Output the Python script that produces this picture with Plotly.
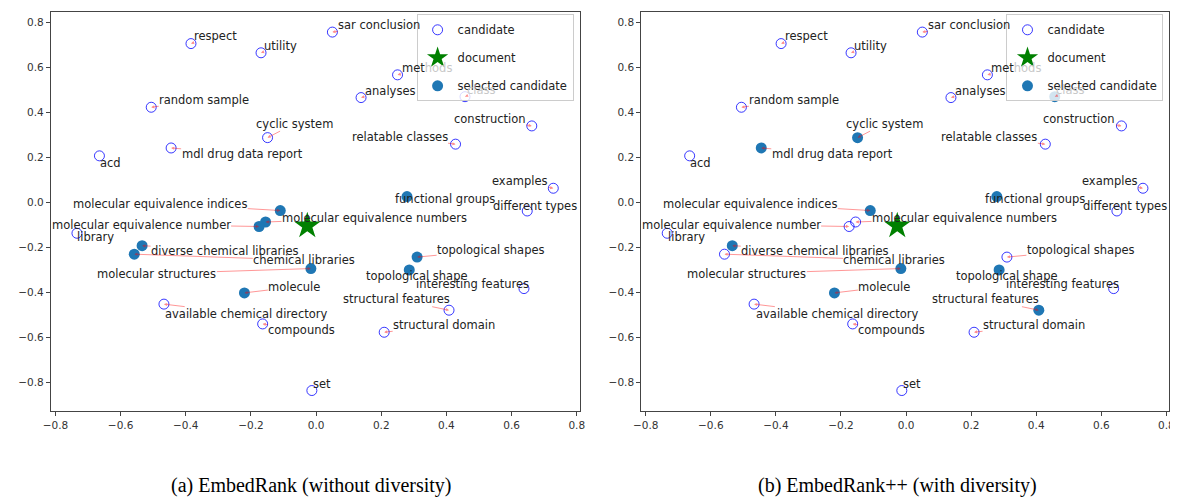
import plotly.graph_objects as go

# ---------------- data ----------------
names = [
    "respect", "utility", "sar conclusion", "random sample", "cyclic system",
    "mdl drug data report", "acd", "molecular equivalence indices",
    "molecular equivalence numbers", "molecular equivalence number", "library",
    "methods", "analyses", "class", "construction", "relatable classes",
    "examples", "functional groups", "different types",
    "diverse chemical libraries", "chemical libraries", "molecular structures",
    "molecule", "available chemical directory", "compounds", "set",
    "topological shapes", "topological shape", "interesting features",
    "structural features", "structural domain",
]
x_vals = [
    -0.384, -0.169, 0.050, -0.506, -0.149,
    -0.445, -0.665, -0.110,
    -0.155, -0.175, -0.734,
    0.250, 0.138, 0.457, 0.662, 0.428,
    0.728, 0.279, 0.648,
    -0.534, -0.558, -0.016,
    -0.220, -0.467, -0.164, -0.013,
    0.310, 0.286, 0.638,
    0.408, 0.209,
]
y_vals = [
    0.705, 0.664, 0.756, 0.422, 0.287,
    0.241, 0.206, -0.037,
    -0.088, -0.108, -0.138,
    0.566, 0.465, 0.469, 0.339, 0.258,
    0.062, 0.025, -0.039,
    -0.193, -0.231, -0.295,
    -0.403, -0.453, -0.541, -0.837,
    -0.244, -0.301, -0.384,
    -0.480, -0.578,
]
doc_x = [-0.027]
doc_y = [-0.105]

selected_a = [
    "molecular equivalence indices", "molecular equivalence numbers",
    "molecular equivalence number", "diverse chemical libraries",
    "chemical libraries", "molecular structures", "molecule",
    "functional groups", "topological shapes", "topological shape",
]
selected_b = [
    "cyclic system", "mdl drug data report", "molecular equivalence indices",
    "diverse chemical libraries", "molecular structures", "molecule",
    "class", "functional groups", "topological shape", "structural features",
]

captions = ["(a) EmbedRank (without diversity)", "(b) EmbedRank++ (with diversity)"]
tick_vals = [-0.8, -0.6, -0.4, -0.2, 0.0, 0.2, 0.4, 0.6, 0.8]

# label text offsets (pixels, relative to point) - layout only
label_offsets = {
    "respect": (25, -8), "utility": (19, -7), "sar conclusion": (47, -7),
    "random sample": (53, -7), "cyclic system": (27, -14),
    "mdl drug data report": (71, 6), "acd": (11, 7),
    "molecular equivalence indices": (-120, -7),
    "molecular equivalence numbers": (109, -4),
    "molecular equivalence number": (-118, -2), "library": (19, 4),
    "methods": (29, -7), "analyses": (29, -7), "class": (16, -7),
    "construction": (-42, -7), "relatable classes": (-56, -7),
    "examples": (-33, -7), "functional groups": (38, 2),
    "different types": (8, -5), "diverse chemical libraries": (83, 5),
    "chemical libraries": (170, 6), "molecular structures": (-154, 5),
    "molecule": (50, -6), "available chemical directory": (83, 10),
    "compounds": (39, 6), "set": (10, -7),
    "topological shapes": (74, -7), "topological shape": (8, 6),
    "interesting features": (-51, -5), "structural features": (-53, -11),
    "structural domain": (60, -7),
}
# number of leading characters left un-faded for labels lying under the legend box
under_legend = {"methods": 3, "class": 0}

# ---------------- figure ----------------
W, H = 1178, 501
OFF = 8  # page body margin in the browser
fig = go.Figure()

CAND_COLOR = "rgba(0,0,255,0.78)"
SEL_COLOR = "#1f77b4"
FONT = "DejaVu Sans"
FADED = "#c8c8c8"


def label_text(n):
    if n in under_legend:
        k = under_legend[n]
        return n[:k] + '<span style="color:%s">%s</span>' % (FADED, n[k:])
    return n


panels = [("x", "y", selected_a, "legend", "a"), ("x2", "y2", selected_b, "legend2", "b")]
annotations = []
for xa, ya, sel, leg, tag in panels:
    cx = [x for n, x in zip(names, x_vals) if n not in sel]
    cy = [y for n, y in zip(names, y_vals) if n not in sel]
    sx = [x for n, x in zip(names, x_vals) if n in sel]
    sy = [y for n, y in zip(names, y_vals) if n in sel]
    fig.add_trace(go.Scatter(
        x=cx, y=cy, mode="markers", name="candidate", xaxis=xa, yaxis=ya,
        legend=leg, legendgroup=tag + "c",
        marker=dict(symbol="circle-open", size=10, color=CAND_COLOR, line=dict(width=1)),
    ))
    fig.add_trace(go.Scatter(
        x=doc_x, y=doc_y, mode="markers", name="document", xaxis=xa, yaxis=ya,
        legend=leg, legendgroup=tag + "d",
        marker=dict(symbol="star", size=20, color="green", line=dict(width=0)),
    ))
    fig.add_trace(go.Scatter(
        x=sx, y=sy, mode="markers", name="selected candidate", xaxis=xa, yaxis=ya,
        legend=leg, legendgroup=tag + "s",
        marker=dict(symbol="circle", size=11, color=SEL_COLOR, line=dict(width=0)),
    ))
    for n, x, y in zip(names, x_vals, y_vals):
        dx, dy = label_offsets[n]
        annotations.append(dict(
            x=x, y=y, xref=xa, yref=ya, text=label_text(n), showarrow=True,
            ax=dx, ay=dy, arrowhead=2, arrowsize=0.7, arrowwidth=0.9,
            arrowcolor="rgba(255,0,0,0.45)", standoff=0, borderpad=0,
            font=dict(family=FONT, size=11.5, color="#222"),
        ))

# captions
for cap, cxp in zip(captions, [(307 - OFF) / W, (900 - OFF) / W]):
    annotations.append(dict(
        x=cxp, y=1 - (485 - OFF) / H, xref="paper", yref="paper", text=cap,
        showarrow=False, xanchor="center", yanchor="middle",
        font=dict(family="Liberation Serif", size=20, color="black"),
    ))

axis_common = dict(
    showgrid=False, zeroline=False, showline=True, mirror=True,
    linecolor="#444", linewidth=1, ticks="outside", ticklen=4,
    tickcolor="#444", tickwidth=1, tickvals=tick_vals, tickformat=".1f",
    tickfont=dict(family=FONT, size=10.5, color="#333"),
)
ydom = [1 - (411 - OFF) / H, 1 - (12.3 - OFF) / H]
fig.update_layout(
    width=W, height=H, margin=dict(l=0, r=0, t=0, b=0),
    paper_bgcolor="white", plot_bgcolor="white",
    xaxis=dict(domain=[(43.3 - OFF) / W, (578.3 - OFF) / W], range=[-0.814, 0.8085],
               anchor="y", ticklabelstandoff=0, **axis_common),
    yaxis=dict(domain=ydom, range=[-0.928, 0.844], anchor="x", **axis_common),
    xaxis2=dict(domain=[(640.7 - OFF) / W, (1175 - OFF) / W], range=[-0.814, 0.8085],
                anchor="y2", ticklabelstandoff=0, **axis_common),
    yaxis2=dict(domain=ydom, range=[-0.928, 0.844], anchor="x2", **axis_common),
    annotations=annotations,
    showlegend=True,
)
legend_common = dict(
    xanchor="right", yanchor="top", bgcolor="rgba(255,255,255,0.8)",
    bordercolor="#cccccc", borderwidth=1, tracegroupgap=9,
    font=dict(family=FONT, size=11.5, color="#222"), itemsizing="trace",
)
LEG_TOP = 14.3
fig.update_layout(
    legend=dict(x=(572.3 - OFF) / W, y=1 - (LEG_TOP - OFF) / H, **legend_common),
    legend2=dict(x=(1169.3 - OFF) / W, y=1 - (LEG_TOP - OFF) / H, **legend_common),
)

fig.write_html("out.html")
